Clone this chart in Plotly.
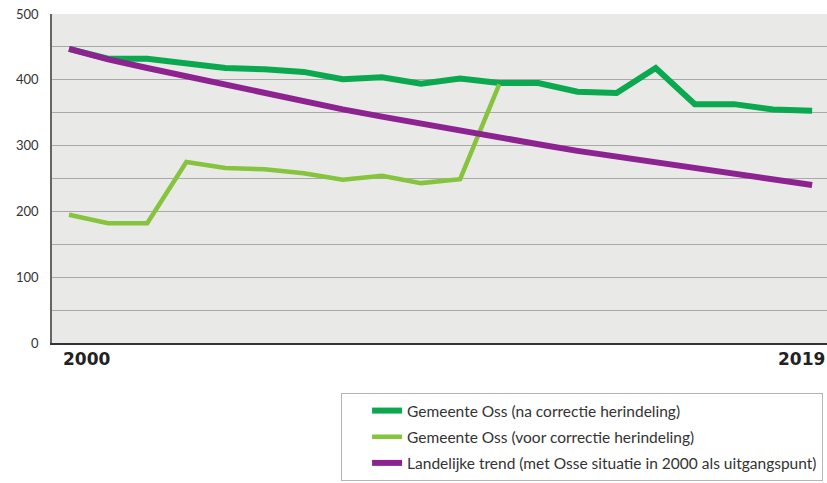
import plotly.graph_objects as go

years = list(range(2000, 2020))

# Gemeente Oss (na correctie herindeling)
oss_na = [447, 432, 432, 426, 418, 416, 412, 401, 404, 394, 402, 395, 395, 382, 380, 418, 363, 363, 355, 353]
# Gemeente Oss (voor correctie herindeling), ends in 2011
years_voor = list(range(2000, 2012))
oss_voor = [195, 182, 182, 275, 266, 264, 258, 248, 254, 243, 249, 393]
# Landelijke trend (met Osse situatie in 2000 als uitgangspunt)
landelijk = [447, 431, 418, 405, 392, 380, 367, 355, 344, 333, 322, 312, 302, 292, 283, 274, 265, 256, 248, 240]

names = [
    'Gemeente Oss (na correctie herindeling)',
    'Gemeente Oss (voor correctie herindeling)',
    'Landelijke trend (met Osse situatie in 2000 als uitgangspunt)',
]

fig = go.Figure()

fig.add_trace(go.Scatter(
    x=years, y=oss_na, mode='lines', name=names[0], legendgroup='a',
    line=dict(color='#0aa84f', width=6),
))
fig.add_trace(go.Scatter(
    x=years_voor, y=oss_voor, mode='lines', name=names[1], legendgroup='b',
    line=dict(color='#86c43e', width=4.5),
))
fig.add_trace(go.Scatter(
    x=years, y=landelijk, mode='lines', name=names[2], legendgroup='c',
    line=dict(color='#8c2390', width=6),
))

# year labels under the axis: first one left aligned, last one right aligned
for yr, anchor, shift in [(years[0], 'left', -8), (years[-1], 'right', 15)]:
    fig.add_annotation(
        x=yr, y=0, xref='x', yref='y', yanchor='top', xanchor=anchor,
        text='<b>%d</b>' % yr, showarrow=False, xshift=shift, yshift=-4,
        font=dict(family='DejaVu Sans', size=17, color='#222'),
    )

fig.update_layout(
    width=827, height=483,
    margin=dict(l=52, r=0, t=14, b=140),
    paper_bgcolor='white',
    plot_bgcolor='#e9e9e7',
    font=dict(family='Lato', color='#333'),
    showlegend=True,
    legend=dict(
        x=0.373, y=-0.152, xanchor='left', yanchor='top',
        bordercolor='#b5b5b5', borderwidth=1, bgcolor='white',
        font=dict(family='Lato', size=15.5, color='#333'),
        traceorder='grouped', tracegroupgap=3, indentation=25,
    ),
)

fig.update_xaxes(
    range=[1999.565, 2019.38], automargin=False,
    showticklabels=False,
    showgrid=False, zeroline=False,
    showline=True, linecolor='#333', linewidth=1.5,
    ticks='',
)
fig.update_yaxes(
    range=[0, 500], automargin=False,
    tickvals=[0, 100, 200, 300, 400, 500],
    tickfont=dict(family='Lato', size=13, color='#333'),
    ticklabeloverflow='allow',
    showgrid=True, gridcolor='#a9a9a9', gridwidth=1,
    minor=dict(dtick=50, tick0=0, showgrid=True, gridcolor='#a9a9a9', gridwidth=1),
    zeroline=False,
    showline=True, linecolor='#666', linewidth=1.5,
    ticks='', ticklabelstandoff=9,
)

# drop the default body margin so the figure fills the window exactly
fig.write_html("out.html", config={'displayModeBar': False},
               post_script="document.body.style.margin='0';")
